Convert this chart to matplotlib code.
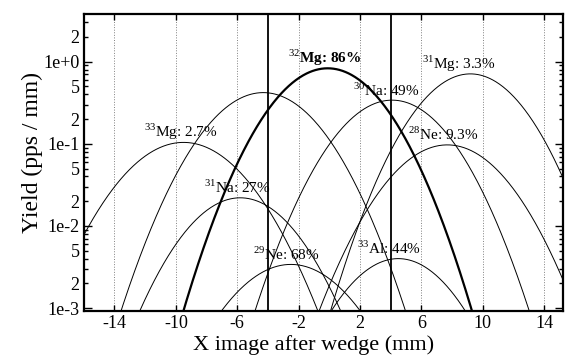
import numpy as np
import matplotlib
matplotlib.use("Agg")
import matplotlib.pyplot as plt
from matplotlib.ticker import FixedLocator, FixedFormatter

# fragments: name, rate share, peak position (mm), peak yield (pps/mm), width (mm)
nuclei = ["33Mg", "", "31Na", "29Ne", "32Mg", "30Na", "33Al", "28Ne", "31Mg"]
shares = ["2.7%", "", "27%", "68%", "86%", "49%", "44%", "9.3%", "3.3%"]
centers = [-9.5, -4.3, -5.8, -2.5, -0.1, 4.1, 4.5, 7.7, 9.2]
peaks = [0.104, 0.42, 0.022, 0.0034, 0.83, 0.34, 0.004, 0.097, 0.71]
widths = [2.85, 2.65, 2.6, 2.8, 2.55, 2.6, 2.55, 2.74, 2.5]
slits = [-4, 4]

xticks = [-14, -10, -6, -2, 2, 6, 10, 14]

plt.rcParams["font.family"] = "Liberation Serif"
plt.rcParams["mathtext.fontset"] = "custom"
plt.rcParams["mathtext.rm"] = "Liberation Serif"
plt.rcParams["axes.unicode_minus"] = False

fig = plt.figure(figsize=(5.66, 3.6), dpi=100)
ax = fig.add_axes([0.148, 0.136, 0.847, 0.825])

x = np.linspace(-16, 15.2, 800)
label_x = [-9.67, None, -6.0, -2.8, -0.27, 3.7, 3.9, 7.45, 8.48]
for i in range(len(nuclei)):
    y = peaks[i] * np.exp(-(x - centers[i]) ** 2 / (2 * widths[i] ** 2))
    bold = nuclei[i] == "32Mg"
    ax.plot(x, y, color="black", lw=1.6 if bold else 0.7, zorder=3)
    if nuclei[i]:
        iso = "".join(c for c in nuclei[i] if c.isdigit())
        el = "".join(c for c in nuclei[i] if c.isalpha())
        ax.text(label_x[i], peaks[i] * 1.33, "$^{%s}$%s: %s" % (iso, el, shares[i]),
                ha="center", va="center", fontsize=11,
                fontweight="bold" if bold else "normal", zorder=4)

for s in slits:
    ax.axvline(s, color="black", lw=1.3, zorder=2)

ax.set_yscale("log")
ax.set_xlim(-16, 15.25)
ax.set_ylim(9.2e-4, 3.8)

ax.set_xticks(xticks)
ax.set_xticklabels([str(t) for t in xticks])
ax.grid(axis="x", color="gray", ls=":", lw=0.7)

ax.yaxis.set_major_locator(FixedLocator([1e-3, 1e-2, 1e-1, 1]))
ax.yaxis.set_major_formatter(FixedFormatter(["1e-3", "1e-2", "1e-1", "1e+0"]))
minor = [m * 10.0 ** e for e in range(-3, 1) for m in range(2, 10)]
ax.yaxis.set_minor_locator(FixedLocator(minor))
ax.yaxis.set_minor_formatter(FixedFormatter(
    ["2" if m == 2 else "5" if m == 5 else "" for e in range(-3, 1) for m in range(2, 10)]))

ax.tick_params(axis="both", which="both", direction="in", top=True, right=True,
               labelsize=13, width=1, pad=3)
ax.tick_params(axis="y", which="major", length=6)
ax.tick_params(axis="y", which="minor", length=3)
ax.tick_params(axis="x", which="major", length=4)
for sp in ax.spines.values():
    sp.set_linewidth(1.6)

ax.set_xlabel("X image after wedge (mm)", fontsize=16)
ax.xaxis.set_label_coords(0.48, -0.08)
ax.set_ylabel("Yield (pps / mm)", fontsize=17)
ax.yaxis.set_label_coords(-0.085, 0.535)

plt.savefig("out.png", dpi=100)
